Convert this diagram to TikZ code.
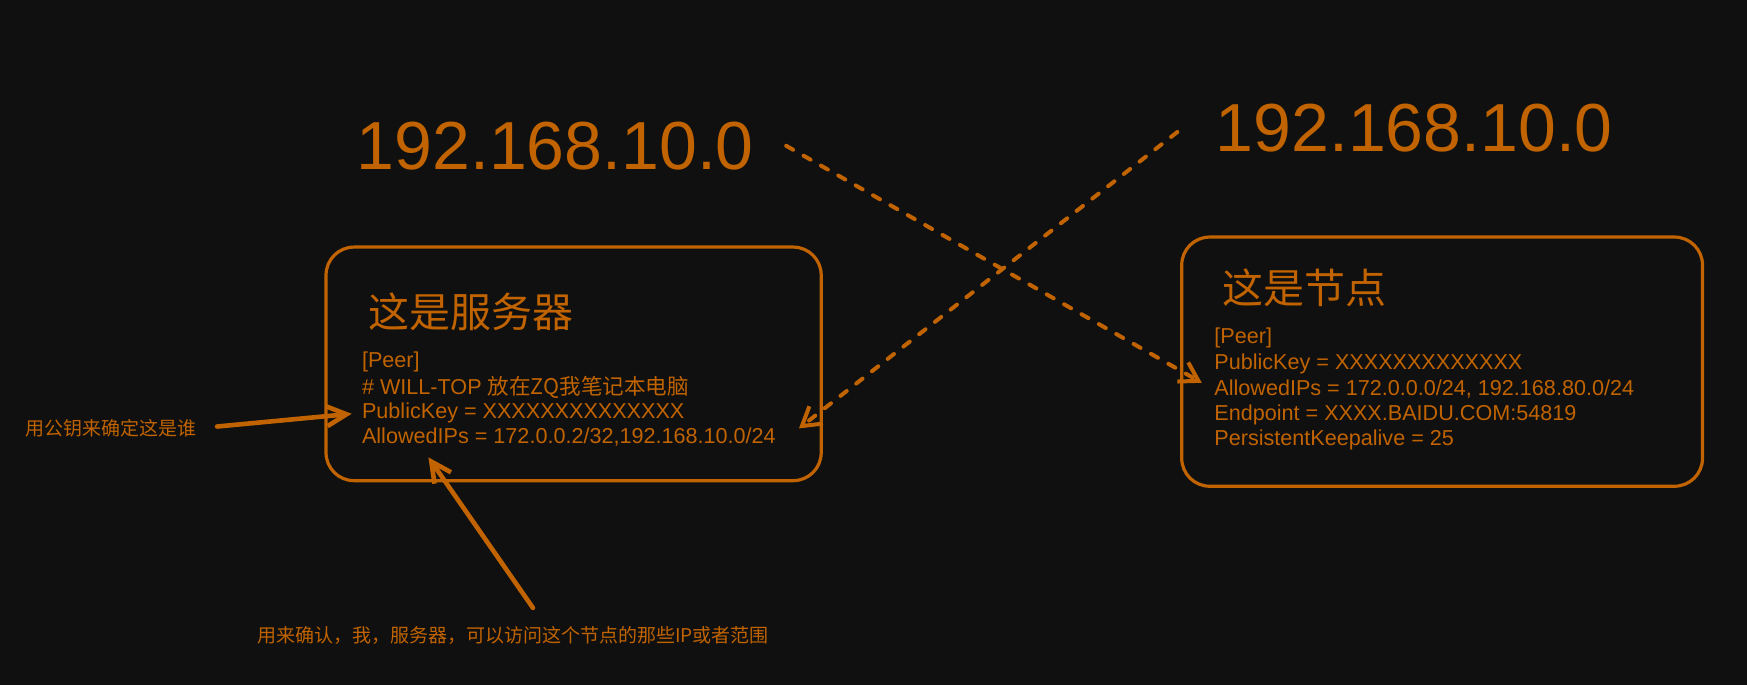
\documentclass[tikz,border=0pt]{standalone}
\usepackage{fontspec}
\setmainfont{Liberation Sans}
\newfontfamily\cjk{Noto Sans CJK SC}
\usetikzlibrary{arrows.meta, positioning}
\definecolor{canvas}{HTML}{101010}
\definecolor{amber}{HTML}{C06300}

\begin{document}
\begin{tikzpicture}[
    x=0.5564pt, y=-0.5564pt,
    panel/.style={rectangle, rounded corners=14pt, draw=amber, line width=1.6pt, inner sep=0pt},
    title/.style={font=\cjk\fontsize{20.5}{24}\selectfont, text=amber, anchor=west, inner sep=0pt},
    conf/.style={font=\fontsize{10.8}{13}\selectfont, text=amber, anchor=west, inner sep=0pt},
    net/.style={font=\fontsize{34}{38}\selectfont, text=amber, inner sep=0pt},
    note/.style={font=\cjk\fontsize{9.5}{11}\selectfont, text=amber, inner sep=0pt},
    pointer/.style={draw=amber, line width=2.3pt, line cap=round, line join=round, -{Straight Barb[length=10pt, width=10pt]}},
    link/.style={draw=amber, line width=2pt, line cap=round, dash pattern=on 4pt off 6pt, -{Straight Barb[length=9pt, width=11pt]}}
]
\useasboundingbox (0,0) rectangle (1570,615.6);
\fill[canvas] (0,0) rectangle (1570,615.6);

% Server side
\node[panel, minimum width=247.6pt, minimum height=116.8pt] (srvbox) at (515.5,327) {};
\node[title] (srvtitle) at (331,280) {这是服务器};
\node[conf] (srvpeer) at (325,325) {[Peer]};
\node[conf] (srvcomment) at (325,348) {\# WILL-TOP {\cjk 放在ZQ我笔记本电脑}};
\node[conf] (srvkey) at (325,371) {PublicKey = XXXXXXXXXXXXXX};
\node[conf] (srvips) at (325,393) {AllowedIPs = 172.0.0.2/32,192.168.10.0/24};

% Peer side
\node[panel, minimum width=260.4pt, minimum height=124.6pt] (peerbox) at (1296,325) {};
\node[title] (peertitle) at (1098,259) {这是节点};
\node[conf] (peerpeer) at (1091,304) {[Peer]};
\node[conf] (peerkey) at (1091,327) {PublicKey = XXXXXXXXXXXXX};
\node[conf] (peerips) at (1091,350) {AllowedIPs = 172.0.0.0/24, 192.168.80.0/24};
\node[conf] (peerend) at (1091,373) {Endpoint = XXXX.BAIDU.COM:54819};
\node[conf] (peerkeep) at (1091,395) {PersistentKeepalive = 25};

% Networks behind each side
\node[net] (lansrv) at (499,131) {192.168.10.0};
\node[net] (lanpeer) at (1271,115) {192.168.10.0};

% Notes
\node[note] (keynote) at (100,385) {用公钥来确定这是谁};
\node[note] (scopenote) at (461,571) {用来确认，我，服务器，可以访问这个节点的那些IP或者范围};

\coordinate (srvout) at ([xshift=16pt]lansrv.east);
\coordinate (peerin) at (1080,344);
\coordinate (peerout) at ([xshift=-19pt, yshift=-2pt]lanpeer.west);
\coordinate (srvin) at (718,385);
\coordinate (scopetail) at ([xshift=10pt, yshift=9pt]scopenote.north);
\coordinate (scopetip) at (385,411);

\draw[pointer, shorten <=10pt, shorten >=5pt] (keynote.east) -- (srvkey.west);
\draw[pointer] (scopetail) -- (scopetip);
\draw[link] (srvout) -- (peerin);
\draw[link] (peerout) -- (srvin);

\end{tikzpicture}
\end{document}
